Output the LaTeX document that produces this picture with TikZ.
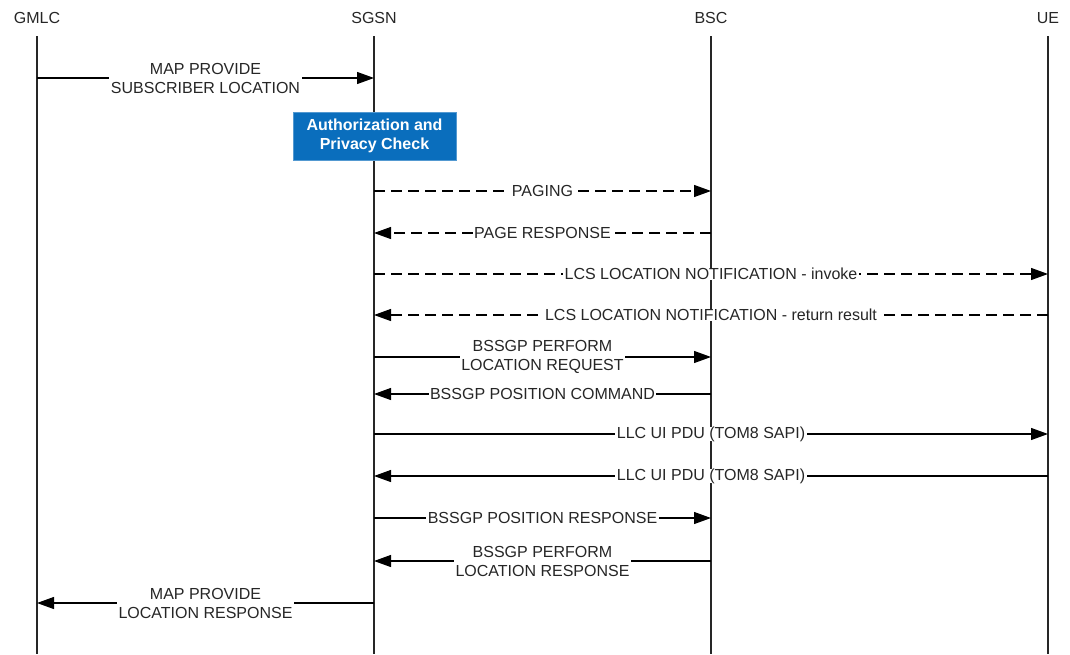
\documentclass[tikz,border=0pt]{standalone}
\usepackage{fontspec}
\setmainfont{Liberation Sans}
\usetikzlibrary{arrows.meta}
\definecolor{authblue}{HTML}{0A6EBD}
\definecolor{txtgray}{HTML}{262626}

\begin{document}
\begin{tikzpicture}[x=1pt,y=-1pt,
  font=\fontsize{16}{19}\selectfont, text=txtgray,
  life/.style={draw=txtgray,line width=1.2pt},
  msg/.style={draw=black,line width=1.2pt,-{Triangle[length=17pt,width=12pt]}},
  async/.style={msg,dash pattern=on 11pt off 6pt},
  lbl/.style={midway,fill=white,inner xsep=1.5pt,inner ysep=0pt,align=center},
  check/.style={fill=authblue,draw=authblue!70!white,line width=1pt,text=white,
    font=\fontsize{16}{19}\selectfont\bfseries,align=center,
    minimum width=163pt,minimum height=48pt}]

\useasboundingbox (0,0) rectangle (1070,654);

% participants
\node (gmlc) at (37,18) {GMLC};
\node (sgsn) at (374,18) {SGSN};
\node (bsc)  at (711,18) {BSC};
\node (ue)   at (1048,18) {UE};

\coordinate (top) at (0,36);
\coordinate (bot) at (0,654);
\foreach \n in {gmlc,sgsn,bsc,ue}
  \draw[life] (\n |- top) -- (\n |- bot);

% message rows
\coordinate (r1) at (0,78);
\coordinate (r2) at (0,191);
\coordinate (r3) at (0,233);
\coordinate (r4) at (0,274);
\coordinate (r5) at (0,315);
\coordinate (r6) at (0,357);
\coordinate (r7) at (0,394);
\coordinate (r8) at (0,434);
\coordinate (r9) at (0,476);
\coordinate (r10) at (0,518);
\coordinate (r11) at (0,561);
\coordinate (r12) at (0,603);

\draw[msg] (gmlc |- r1) -- (sgsn |- r1) node[lbl] {MAP PROVIDE\\SUBSCRIBER LOCATION};

\node[check] (auth) at (374.5,136) {Authorization and\\Privacy Check};

\draw[async] (sgsn |- r2) -- (bsc |- r2) node[lbl] {PAGING};
\draw[async] (bsc |- r3) -- (sgsn |- r3) node[lbl] {PAGE RESPONSE};
\draw[async] (sgsn |- r4) -- (ue |- r4) node[lbl] {LCS LOCATION NOTIFICATION - invoke};
\draw[async] (ue |- r5) -- (sgsn |- r5) node[lbl] {LCS LOCATION NOTIFICATION - return result};

\draw[msg] (sgsn |- r6) -- (bsc |- r6) node[lbl] {BSSGP PERFORM\\LOCATION REQUEST};
\draw[msg] (bsc |- r7) -- (sgsn |- r7) node[lbl] {BSSGP POSITION COMMAND};
\draw[msg] (sgsn |- r8) -- (ue |- r8) node[lbl] {LLC UI PDU (TOM8 SAPI)};
\draw[msg] (ue |- r9) -- (sgsn |- r9) node[lbl] {LLC UI PDU (TOM8 SAPI)};
\draw[msg] (sgsn |- r10) -- (bsc |- r10) node[lbl] {BSSGP POSITION RESPONSE};
\draw[msg] (bsc |- r11) -- (sgsn |- r11) node[lbl] {BSSGP PERFORM\\LOCATION RESPONSE};
\draw[msg] (sgsn |- r12) -- (gmlc |- r12) node[lbl] {MAP PROVIDE\\LOCATION RESPONSE};

\end{tikzpicture}
\end{document}
